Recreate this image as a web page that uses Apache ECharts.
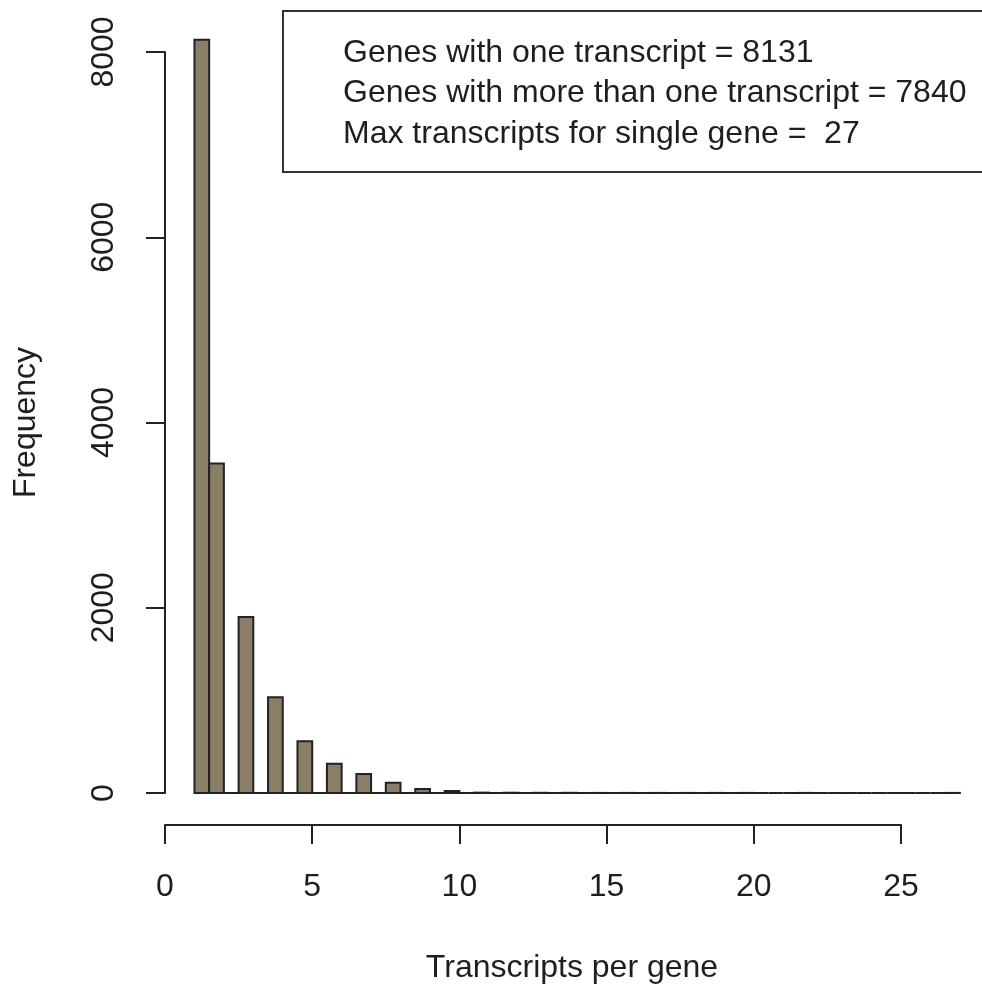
<!DOCTYPE html>
<html>
<head>
<meta charset="utf-8">
<script src="https://cdn.jsdelivr.net/npm/echarts@6/dist/echarts.min.js"></script>
<style>
html,body{margin:0;padding:0;background:#fff;}
#chart{width:982px;height:994px;}
</style>
</head>
<body>
<div id="chart"></div>
<script>
// Transcripts per gene (1..27) and number of genes with that count
const transcripts = [1,2,3,4,5,6,7,8,9,10,11,12,13,14,15,16,17,18,19,20,21,22,23,24,25,26,27];
const genes =       [8131,3557,1900,1035,559,317,205,111,43,22,4,3,2,2,1,1,1,1,1,1,0,1,0,0,0,0,1];
const xTicks = [0,5,10,15,20,25];
const yTicks = [0,2000,4000,6000,8000];
const legendLines = [
  'Genes with one transcript = 8131',
  'Genes with more than one transcript = 7840',
  'Max transcripts for single gene =  27'
];
const binWidth = 0.5;

// Build histogram bins like R's hist(breaks = seq(1, 27, 0.5)), right-closed, include.lowest
const nBins = Math.round((transcripts[transcripts.length-1] - transcripts[0]) / binWidth);
const bins = [];
for (let i = 0; i < nBins; i++) {
  bins.push([transcripts[0] + i*binWidth, transcripts[0] + (i+1)*binWidth, 0]);
}
transcripts.forEach((t, k) => {
  let idx = t === transcripts[0] ? 0 : Math.round((t - transcripts[0]) / binWidth) - 1;
  bins[idx][2] += genes[k];
});

const FONT = "'Liberation Sans', Arial, sans-serif";
const TXT = '#1e1e1e';
const FS = 32;

const chart = echarts.init(document.getElementById('chart'), null, {renderer:'canvas'});
chart.setOption({
  animation:false,
  backgroundColor:'#fff',
  grid:{left:165, top:52, width:736, height:741, containLabel:false},
  xAxis:{
    type:'value', min:xTicks[0], max:xTicks[xTicks.length-1], interval:5,
    offset:32,
    axisLine:{show:true, onZero:false, lineStyle:{color:'#222', width:2}},
    axisTick:{show:true, length:19, lineStyle:{color:'#222', width:2}},
    axisLabel:{fontSize:FS, fontFamily:FONT, color:TXT, margin:46},
    splitLine:{show:false},
    name:'Transcripts per gene', nameLocation:'middle', nameGap:127,
    nameTextStyle:{fontSize:FS, fontFamily:FONT, color:TXT, padding:[0,0,0,78]}
  },
  yAxis:{
    type:'value', min:yTicks[0], max:yTicks[yTicks.length-1], interval:2000,
    offset:3,
    axisLine:{show:true, lineStyle:{color:'#222', width:2}},
    axisTick:{show:true, length:19, lineStyle:{color:'#222', width:2}},
    axisLabel:{fontSize:FS, fontFamily:FONT, color:TXT, margin:42, rotate:90, align:'center', verticalAlign:'bottom',
               formatter:function(v){return String(v);}},
    splitLine:{show:false},
    name:'Frequency', nameLocation:'middle', nameGap:120, nameRotate:90,
    nameTextStyle:{fontSize:FS, fontFamily:FONT, color:TXT, padding:[0,0,0,0]}
  },
  series:[{
    type:'custom',
    clip:false,
    data:bins,
    encode:{x:[0,1], y:2},
    renderItem:function(params, api){
      const p0 = api.coord([api.value(0), 0]);
      const p1 = api.coord([api.value(1), api.value(2)]);
      return {
        type:'rect',
        shape:{x:p0[0], y:p1[1], width:p1[0]-p0[0], height:p0[1]-p1[1]},
        style:{fill:'#8B7E66', stroke:'#222', lineWidth:2}
      };
    }
  }],
  graphic:[
    {type:'rect', left:282, top:10, shape:{width:720, height:161},
     style:{fill:'#fff', stroke:'#333', lineWidth:2}, z:10},
    ...legendLines.map((s,i)=>({
      type:'text', left:343, top:37 + i*40.5, z:11,
      style:{text:s, font:FS + 'px ' + FONT, fill:TXT}
    }))
  ]
});
</script>
</body>
</html>
